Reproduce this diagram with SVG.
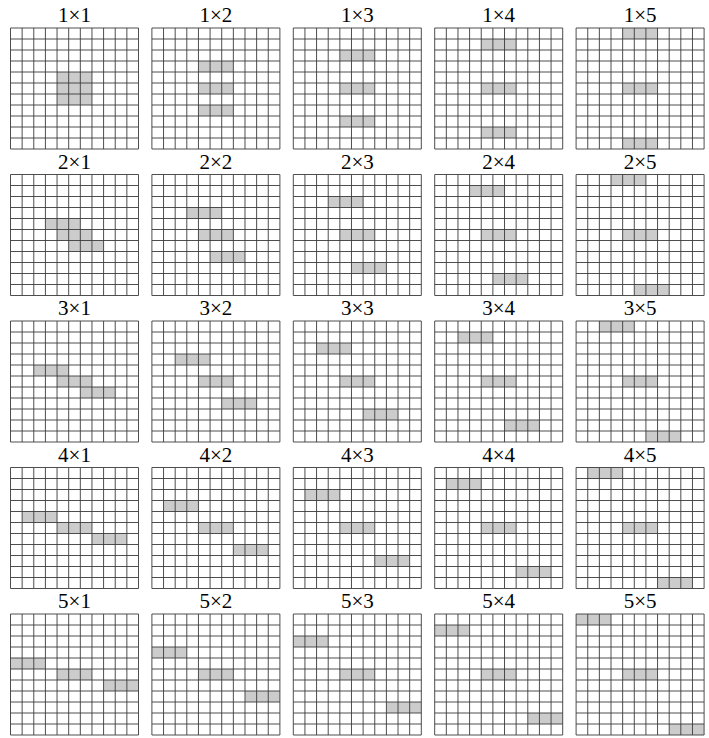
<svg xmlns="http://www.w3.org/2000/svg" xmlns:xlink="http://www.w3.org/1999/xlink" width="709" height="738" viewBox="0 0 709 738">
<style>
.lbl{font-family:"Liberation Serif","Times New Roman",serif;font-size:21px;fill:#000;text-anchor:middle}
.blk{fill:#cccccc;stroke:none}
.grid{fill:none;stroke:#3a3a3a;stroke-width:0.9}
</style>
<defs>
<path id="grid" class="grid" d="M0 0V121M11.636 0V121M23.273 0V121M34.909 0V121M46.545 0V121M58.182 0V121M69.818 0V121M81.455 0V121M93.091 0V121M104.727 0V121M116.364 0V121M128 0V121M0 0H128M0 11H128M0 22H128M0 33H128M0 44H128M0 55H128M0 66H128M0 77H128M0 88H128M0 99H128M0 110H128M0 121H128"/>
</defs>
<rect width="709" height="738" fill="#ffffff"/>

<!-- Row 1 -->
<g id="p1x1"><text class="lbl" x="74.5" y="22">1×1</text><g transform="translate(10.5,28)"><rect class="blk" x="46.545" y="44" width="34.909" height="11"/><rect class="blk" x="46.545" y="55" width="34.909" height="11"/><rect class="blk" x="46.545" y="66" width="34.909" height="11"/><use xlink:href="#grid" href="#grid"/></g></g>
<g id="p1x2"><text class="lbl" x="215.9" y="22">1×2</text><g transform="translate(151.9,28)"><rect class="blk" x="46.545" y="33" width="34.909" height="11"/><rect class="blk" x="46.545" y="55" width="34.909" height="11"/><rect class="blk" x="46.545" y="77" width="34.909" height="11"/><use xlink:href="#grid" href="#grid"/></g></g>
<g id="p1x3"><text class="lbl" x="357.3" y="22">1×3</text><g transform="translate(293.3,28)"><rect class="blk" x="46.545" y="22" width="34.909" height="11"/><rect class="blk" x="46.545" y="55" width="34.909" height="11"/><rect class="blk" x="46.545" y="88" width="34.909" height="11"/><use xlink:href="#grid" href="#grid"/></g></g>
<g id="p1x4"><text class="lbl" x="498.7" y="22">1×4</text><g transform="translate(434.7,28)"><rect class="blk" x="46.545" y="11" width="34.909" height="11"/><rect class="blk" x="46.545" y="55" width="34.909" height="11"/><rect class="blk" x="46.545" y="99" width="34.909" height="11"/><use xlink:href="#grid" href="#grid"/></g></g>
<g id="p1x5"><text class="lbl" x="640.1" y="22">1×5</text><g transform="translate(576.1,28)"><rect class="blk" x="46.545" y="0" width="34.909" height="11"/><rect class="blk" x="46.545" y="55" width="34.909" height="11"/><rect class="blk" x="46.545" y="110" width="34.909" height="11"/><use xlink:href="#grid" href="#grid"/></g></g>

<!-- Row 2 (dx=1) -->
<g id="p2x1"><text class="lbl" x="74.5" y="168.5">2×1</text><g transform="translate(10.5,174.5)"><rect class="blk" x="34.909" y="44" width="34.909" height="11"/><rect class="blk" x="46.545" y="55" width="34.909" height="11"/><rect class="blk" x="58.182" y="66" width="34.909" height="11"/><use xlink:href="#grid" href="#grid"/></g></g>
<g id="p2x2"><text class="lbl" x="215.9" y="168.5">2×2</text><g transform="translate(151.9,174.5)"><rect class="blk" x="34.909" y="33" width="34.909" height="11"/><rect class="blk" x="46.545" y="55" width="34.909" height="11"/><rect class="blk" x="58.182" y="77" width="34.909" height="11"/><use xlink:href="#grid" href="#grid"/></g></g>
<g id="p2x3"><text class="lbl" x="357.3" y="168.5">2×3</text><g transform="translate(293.3,174.5)"><rect class="blk" x="34.909" y="22" width="34.909" height="11"/><rect class="blk" x="46.545" y="55" width="34.909" height="11"/><rect class="blk" x="58.182" y="88" width="34.909" height="11"/><use xlink:href="#grid" href="#grid"/></g></g>
<g id="p2x4"><text class="lbl" x="498.7" y="168.5">2×4</text><g transform="translate(434.7,174.5)"><rect class="blk" x="34.909" y="11" width="34.909" height="11"/><rect class="blk" x="46.545" y="55" width="34.909" height="11"/><rect class="blk" x="58.182" y="99" width="34.909" height="11"/><use xlink:href="#grid" href="#grid"/></g></g>
<g id="p2x5"><text class="lbl" x="640.1" y="168.5">2×5</text><g transform="translate(576.1,174.5)"><rect class="blk" x="34.909" y="0" width="34.909" height="11"/><rect class="blk" x="46.545" y="55" width="34.909" height="11"/><rect class="blk" x="58.182" y="110" width="34.909" height="11"/><use xlink:href="#grid" href="#grid"/></g></g>

<!-- Row 3 (dx=2) -->
<g id="p3x1"><text class="lbl" x="74.5" y="315">3×1</text><g transform="translate(10.5,321)"><rect class="blk" x="23.273" y="44" width="34.909" height="11"/><rect class="blk" x="46.545" y="55" width="34.909" height="11"/><rect class="blk" x="69.818" y="66" width="34.909" height="11"/><use xlink:href="#grid" href="#grid"/></g></g>
<g id="p3x2"><text class="lbl" x="215.9" y="315">3×2</text><g transform="translate(151.9,321)"><rect class="blk" x="23.273" y="33" width="34.909" height="11"/><rect class="blk" x="46.545" y="55" width="34.909" height="11"/><rect class="blk" x="69.818" y="77" width="34.909" height="11"/><use xlink:href="#grid" href="#grid"/></g></g>
<g id="p3x3"><text class="lbl" x="357.3" y="315">3×3</text><g transform="translate(293.3,321)"><rect class="blk" x="23.273" y="22" width="34.909" height="11"/><rect class="blk" x="46.545" y="55" width="34.909" height="11"/><rect class="blk" x="69.818" y="88" width="34.909" height="11"/><use xlink:href="#grid" href="#grid"/></g></g>
<g id="p3x4"><text class="lbl" x="498.7" y="315">3×4</text><g transform="translate(434.7,321)"><rect class="blk" x="23.273" y="11" width="34.909" height="11"/><rect class="blk" x="46.545" y="55" width="34.909" height="11"/><rect class="blk" x="69.818" y="99" width="34.909" height="11"/><use xlink:href="#grid" href="#grid"/></g></g>
<g id="p3x5"><text class="lbl" x="640.1" y="315">3×5</text><g transform="translate(576.1,321)"><rect class="blk" x="23.273" y="0" width="34.909" height="11"/><rect class="blk" x="46.545" y="55" width="34.909" height="11"/><rect class="blk" x="69.818" y="110" width="34.909" height="11"/><use xlink:href="#grid" href="#grid"/></g></g>

<!-- Row 4 (dx=3) -->
<g id="p4x1"><text class="lbl" x="74.5" y="461.5">4×1</text><g transform="translate(10.5,467.5)"><rect class="blk" x="11.636" y="44" width="34.909" height="11"/><rect class="blk" x="46.545" y="55" width="34.909" height="11"/><rect class="blk" x="81.455" y="66" width="34.909" height="11"/><use xlink:href="#grid" href="#grid"/></g></g>
<g id="p4x2"><text class="lbl" x="215.9" y="461.5">4×2</text><g transform="translate(151.9,467.5)"><rect class="blk" x="11.636" y="33" width="34.909" height="11"/><rect class="blk" x="46.545" y="55" width="34.909" height="11"/><rect class="blk" x="81.455" y="77" width="34.909" height="11"/><use xlink:href="#grid" href="#grid"/></g></g>
<g id="p4x3"><text class="lbl" x="357.3" y="461.5">4×3</text><g transform="translate(293.3,467.5)"><rect class="blk" x="11.636" y="22" width="34.909" height="11"/><rect class="blk" x="46.545" y="55" width="34.909" height="11"/><rect class="blk" x="81.455" y="88" width="34.909" height="11"/><use xlink:href="#grid" href="#grid"/></g></g>
<g id="p4x4"><text class="lbl" x="498.7" y="461.5">4×4</text><g transform="translate(434.7,467.5)"><rect class="blk" x="11.636" y="11" width="34.909" height="11"/><rect class="blk" x="46.545" y="55" width="34.909" height="11"/><rect class="blk" x="81.455" y="99" width="34.909" height="11"/><use xlink:href="#grid" href="#grid"/></g></g>
<g id="p4x5"><text class="lbl" x="640.1" y="461.5">4×5</text><g transform="translate(576.1,467.5)"><rect class="blk" x="11.636" y="0" width="34.909" height="11"/><rect class="blk" x="46.545" y="55" width="34.909" height="11"/><rect class="blk" x="81.455" y="110" width="34.909" height="11"/><use xlink:href="#grid" href="#grid"/></g></g>

<!-- Row 5 (dx=4) -->
<g id="p5x1"><text class="lbl" x="74.5" y="608">5×1</text><g transform="translate(10.5,614)"><rect class="blk" x="0" y="44" width="34.909" height="11"/><rect class="blk" x="46.545" y="55" width="34.909" height="11"/><rect class="blk" x="93.091" y="66" width="34.909" height="11"/><use xlink:href="#grid" href="#grid"/></g></g>
<g id="p5x2"><text class="lbl" x="215.9" y="608">5×2</text><g transform="translate(151.9,614)"><rect class="blk" x="0" y="33" width="34.909" height="11"/><rect class="blk" x="46.545" y="55" width="34.909" height="11"/><rect class="blk" x="93.091" y="77" width="34.909" height="11"/><use xlink:href="#grid" href="#grid"/></g></g>
<g id="p5x3"><text class="lbl" x="357.3" y="608">5×3</text><g transform="translate(293.3,614)"><rect class="blk" x="0" y="22" width="34.909" height="11"/><rect class="blk" x="46.545" y="55" width="34.909" height="11"/><rect class="blk" x="93.091" y="88" width="34.909" height="11"/><use xlink:href="#grid" href="#grid"/></g></g>
<g id="p5x4"><text class="lbl" x="498.7" y="608">5×4</text><g transform="translate(434.7,614)"><rect class="blk" x="0" y="11" width="34.909" height="11"/><rect class="blk" x="46.545" y="55" width="34.909" height="11"/><rect class="blk" x="93.091" y="99" width="34.909" height="11"/><use xlink:href="#grid" href="#grid"/></g></g>
<g id="p5x5"><text class="lbl" x="640.1" y="608">5×5</text><g transform="translate(576.1,614)"><rect class="blk" x="0" y="0" width="34.909" height="11"/><rect class="blk" x="46.545" y="55" width="34.909" height="11"/><rect class="blk" x="93.091" y="110" width="34.909" height="11"/><use xlink:href="#grid" href="#grid"/></g></g>

<g id="connectors"></g>
</svg>
